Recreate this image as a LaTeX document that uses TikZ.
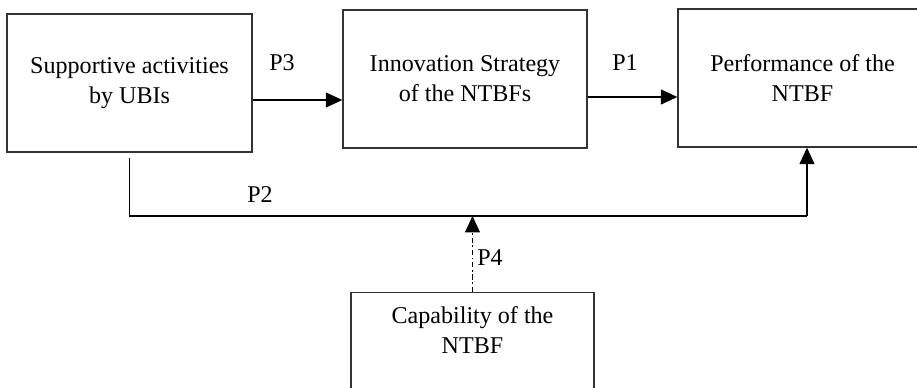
\documentclass[tikz,border=0pt]{standalone}
\usepackage{fontspec}
\setmainfont{Liberation Serif}
\usepackage{tikz}
\usetikzlibrary{arrows.meta, positioning, calc}
\definecolor{boxline}{HTML}{333333}

\begin{document}
\begin{tikzpicture}[x=0.02cm, y=-0.02cm,
  factor/.style={rectangle, draw=boxline, line width=0.8pt,
    minimum width=4.9cm, minimum height=2.76cm,
    align=center, font=\fontsize{13.7}{17}\selectfont},
  plab/.style={font=\fontsize{13.7}{17}\selectfont, inner sep=0pt},
  ar/.style={-{Triangle[length=3.3mm, width=3mm]}, line width=0.7pt},
  link/.style={line width=0.7pt}
]
  \useasboundingbox (0,0) rectangle (917,388);
  \clip (0,0) rectangle (917,388);

  \node[factor] (sup) at (129.5,83) {Supportive activities\\by UBIs};
  \node[factor, minimum width=4.88cm] (inno) at (465,79) {Innovation Strategy\\of the NTBFs};
  \node[factor, minimum width=4.98cm] (perf) at (802.5,78) {Performance of the\\NTBF};
  \node[factor, minimum width=4.86cm, minimum height=0pt, anchor=north,
    inner ysep=8pt, text depth=39pt] (cap) at (472.5,292) {Capability of the\\NTBF};

  \coordinate (join) at ([xshift=0.09cm]perf.south |- 0,216);

  \draw[ar] ([yshift=-0.34cm]sup.east) -- ([yshift=-0.34cm]sup.east -| inno.west);
  \draw[ar] ([yshift=-0.36cm]inno.east) -- ([yshift=-0.36cm]inno.east -| perf.west);
  \draw[link] ([yshift=-3pt]sup.south) |- (join);
  \draw[ar] (join) -- (join |- perf.south);
  \draw[ar, dash pattern=on 3pt off 1.5pt on 1pt off 1.5pt] (cap.north) -- (cap.north |- join);

  \node[plab] (p3) at (282,63) {P3};
  \node[plab] (p1) at (625,63) {P1};
  \node[plab] (p2) at (260,195) {P2};
  \node[plab] (p4) at (490,258) {P4};
\end{tikzpicture}
\end{document}
